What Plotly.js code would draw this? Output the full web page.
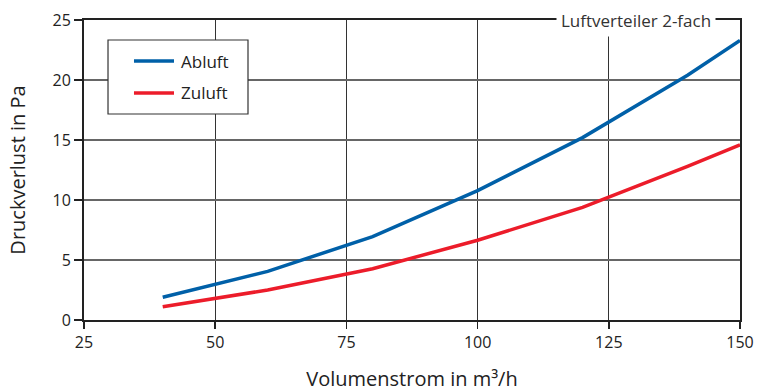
<!DOCTYPE html>
<html>
<head>
<meta charset="utf-8">
<script src="https://cdn.plot.ly/plotly-3.0.1.min.js"></script>
<style>html,body{margin:0;padding:0;background:#fff;}#chart{width:757px;height:392px;}</style>
</head>
<body>
<div id="chart"></div>
<script>
const volumenstrom = [40, 60, 80, 100, 120, 140, 150];
const abluft = [1.9, 4.05, 6.95, 10.78, 15.2, 20.4, 23.3];
const zuluft = [1.1, 2.5, 4.27, 6.65, 9.38, 12.8, 14.6];
const seriesNames = ['Abluft', 'Zuluft'];
const seriesColors = ['#0060a8', '#ec1c2a'];
const xTicks = [25, 50, 75, 100, 125, 150];
const yTicks = [0, 5, 10, 15, 20, 25];
const chartLabel = 'Luftverteiler 2-fach';

const font = 'Open Sans, Noto Sans, sans-serif';
const traces = [
  {x: volumenstrom, y: abluft, name: seriesNames[0], mode: 'lines',
   line: {color: seriesColors[0], width: 3.5}},
  {x: volumenstrom, y: zuluft, name: seriesNames[1], mode: 'lines',
   line: {color: seriesColors[1], width: 3.5}}
];

// Hand-drawn legend box (paper coordinates)
const legendShapes = [
  {type: 'rect', xref: 'paper', yref: 'paper', x0: 0.0366, x1: 0.25, y0: 0.6867, y1: 0.9333,
   line: {color: '#333', width: 1.2}, fillcolor: '#fff', layer: 'above'}
];
const legendAnn = [];
const legendY = [0.8633, 0.7567];
seriesNames.forEach((n, i) => {
  legendShapes.push({type: 'line', xref: 'paper', yref: 'paper', x0: 0.0762, x1: 0.1372,
    y0: legendY[i], y1: legendY[i], line: {color: seriesColors[i], width: 3.5}, layer: 'above'});
  legendAnn.push({text: n, xref: 'paper', yref: 'paper', x: 0.1448, y: legendY[i],
    xanchor: 'left', yanchor: 'middle', showarrow: false,
    font: {family: font, size: 17, color: '#222'}});
});

const layout = {
  width: 757, height: 392,
  margin: {l: 84, r: 17, t: 20, b: 72},
  paper_bgcolor: '#fff', plot_bgcolor: '#fff',
  font: {family: font, size: 16, color: '#222'},
  showlegend: false,
  xaxis: {range: [25, 150], tickvals: xTicks, ticktext: xTicks.map(String),
    showgrid: true, gridcolor: '#333', gridwidth: 1,
    showline: true, linecolor: '#222', linewidth: 2, mirror: true,
    ticks: 'outside', ticklen: 7, tickcolor: '#222', tickwidth: 1.5,
    zeroline: false, fixedrange: true,
    tickfont: {family: font, size: 16, color: '#222'},
    title: {text: 'Volumenstrom in m³/h', standoff: 20,
      font: {family: font, size: 20, color: '#222', weight: 500}}},
  yaxis: {range: [0, 25], tickvals: yTicks, ticktext: yTicks.map(String),
    showgrid: true, gridcolor: '#666', gridwidth: 1.3,
    showline: true, linecolor: '#222', linewidth: 2, mirror: true,
    ticks: 'outside', ticklen: 8, tickcolor: '#222', tickwidth: 1.5,
    zeroline: false, fixedrange: true,
    tickfont: {family: font, size: 16, color: '#222'},
    title: {text: 'Druckverlust in Pa', standoff: 22,
      font: {family: font, size: 20, color: '#222', weight: 500}}},
  shapes: legendShapes,
  annotations: [{
    text: chartLabel, xref: 'paper', yref: 'paper', x: 0.963, y: 1,
    xanchor: 'right', yanchor: 'middle', showarrow: false,
    bgcolor: '#fff', borderpad: 4,
    font: {family: font, size: 17, color: '#333', weight: 500}
  }].concat(legendAnn)
};
Plotly.newPlot('chart', traces, layout, {displayModeBar: false, staticPlot: true});
</script>
</body>
</html>
